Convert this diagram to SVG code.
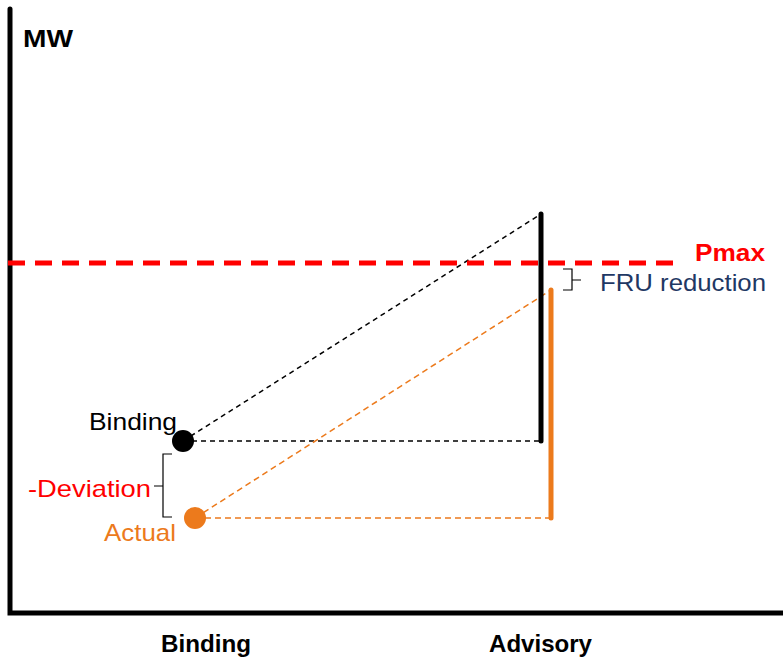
<svg xmlns="http://www.w3.org/2000/svg" width="783" height="662" viewBox="0 0 783 662">
<style>
.t{font-family:"Liberation Sans","DejaVu Sans",sans-serif;font-size:24px}
.b{font-weight:bold}
.dk{stroke:#000;stroke-width:1.5;stroke-dasharray:5 4;fill:none}
.do{stroke:#EC7A1C;stroke-width:1.5;stroke-dasharray:6 4;fill:none}
.br{stroke:#000;stroke-width:1.2;fill:none}
</style>
<rect width="783" height="662" fill="#fff"/>
<g id="axes">
<path d="M10,9 V613 H783" stroke="#000" stroke-width="5" fill="none" stroke-linecap="round" stroke-linejoin="miter"/>
<text class="t b" x="23" y="47" textLength="50" lengthAdjust="spacingAndGlyphs">MW</text>
<text class="t b" x="161" y="652" textLength="90" lengthAdjust="spacingAndGlyphs">Binding</text>
<text class="t b" x="489" y="652" textLength="103" lengthAdjust="spacingAndGlyphs">Advisory</text>
</g>
<g id="connectors">
<line class="dk" x1="183" y1="441" x2="541" y2="214"/>
<line class="dk" x1="183" y1="441" x2="541" y2="441"/>
<line class="do" x1="195" y1="518" x2="551" y2="290"/>
<line class="do" x1="195" y1="518" x2="551" y2="518"/>
</g>
<g id="pmax">
<line x1="8" y1="263" x2="683" y2="263" stroke="#FF0000" stroke-width="5" stroke-dasharray="17 10"/>
<text class="t b" x="695" y="261" fill="#FF0000" textLength="70" lengthAdjust="spacingAndGlyphs">Pmax</text>
</g>
<g id="advisory-binding-bar">
<line x1="541" y1="214" x2="541" y2="441" stroke="#000" stroke-width="5" stroke-linecap="round"/>
</g>
<g id="advisory-actual-bar">
<line x1="551" y1="290" x2="551" y2="518" stroke="#EC7A1C" stroke-width="5" stroke-linecap="round"/>
</g>
<g id="fru">
<path class="br" d="M563,269 H572 V290 H563 M572,280 H581"/>
<text class="t" x="600" y="291" fill="#1F3864" textLength="166" lengthAdjust="spacingAndGlyphs">FRU reduction</text>
</g>
<g id="binding-point">
<circle cx="183" cy="441" r="11" fill="#000"/>
<text class="t" x="89" y="430" fill="#000" textLength="88" lengthAdjust="spacingAndGlyphs">Binding</text>
</g>
<g id="actual-point">
<circle cx="195" cy="518" r="11" fill="#EC7A1C"/>
<text class="t" x="104" y="541" fill="#EC7A1C" textLength="72" lengthAdjust="spacingAndGlyphs">Actual</text>
</g>
<g id="deviation">
<path class="br" d="M172,454 H163 V517 H172 M163,486 H154"/>
<text class="t" x="28" y="497" fill="#FF0000" textLength="123" lengthAdjust="spacingAndGlyphs">-Deviation</text>
</g>
</svg>
